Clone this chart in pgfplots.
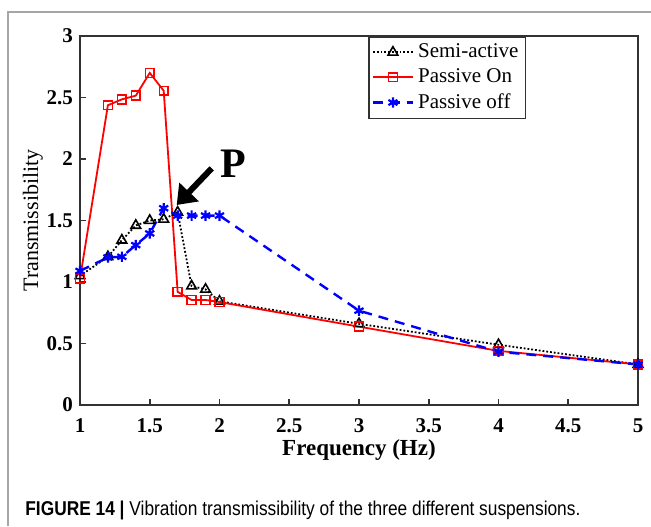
\documentclass[border=0pt]{standalone}
\usepackage{fontspec}
\setmainfont{Liberation Serif}
\newfontfamily\capfont{Liberation Sans}
\usepackage{pgfplots}
\pgfplotsset{compat=1.18}
\usetikzlibrary{arrows.meta}
\definecolor{axisgray}{RGB}{50,50,50}

\begin{document}
\begin{tikzpicture}
\path[use as bounding box] (0,0) rectangle (325.5pt,263pt);
% partial outer frame of the figure panel
\draw[gray!70,line width=0.6pt] (4pt,0) -- (4pt,257pt) -- (325.5pt,257pt);

\begin{axis}[
  at={(40pt,60.5pt)},anchor=south west,
  scale only axis,width=279pt,height=184.5pt,
  xmin=1,xmax=5,ymin=0,ymax=3,
  xtick={1,1.5,...,5},ytick={0,0.5,...,3},
  xtick pos=left,ytick pos=left,tick align=inside,
  major tick length=3pt,
  axis line style={axisgray,line width=1pt},
  tick style={axisgray,line width=0.8pt},
  /pgf/number format/assume math mode=true,
  tick label style={font=\fontsize{10.5}{12}\selectfont\bfseries},
  xticklabel style={yshift=-3.5pt},
  xlabel={\textbf{Frequency (Hz)}},
  ylabel={Transmissibility},
  xlabel style={font=\fontsize{11.5}{13}\selectfont,yshift=3.5pt},
  ylabel style={font=\fontsize{11}{13}\selectfont,yshift=-5pt},
  legend style={at={(0.516,1)},anchor=north west,
    font=\fontsize{10.5}{12.5}\selectfont,draw=axisgray,line width=0.8pt,
    inner sep=1.5pt,row sep=0pt,cells={anchor=west}},
  legend image code/.code={\draw[mark repeat=2,mark phase=2] plot coordinates {(0pt,0pt)(10pt,0pt)(20pt,0pt)};},
  clip=false,
]
\addplot[black,densely dotted,line width=0.9pt,mark=triangle,mark size=2.8pt,mark options={solid,line width=0.8pt}]
 coordinates {(1,1.05)(1.2,1.205)(1.3,1.34)(1.4,1.46)(1.5,1.50)(1.6,1.51)(1.7,1.567)(1.8,0.967)(1.9,0.94)(2,0.843)(3,0.66)(4,0.49)(5,0.33)};
\addlegendentry{Semi-active}
\addplot[red,line width=0.9pt,mark=square,mark size=2.2pt,mark options={solid,line width=0.8pt}]
 coordinates {(1,1.027)(1.2,2.437)(1.3,2.485)(1.4,2.515)(1.5,2.70)(1.6,2.555)(1.7,0.92)(1.8,0.854)(1.9,0.854)(2,0.837)(3,0.637)(4,0.44)(5,0.33)};
\addlegendentry{Passive On}
\addplot[blue,dash pattern=on 5pt off 3.5pt,line width=1.2pt,mark=asterisk,mark size=2.6pt,mark options={solid,line width=1.1pt}]
 coordinates {(1,1.09)(1.2,1.2)(1.3,1.205)(1.4,1.30)(1.5,1.395)(1.6,1.60)(1.7,1.54)(1.8,1.54)(1.9,1.54)(2,1.54)(3,0.767)(4,0.433)(5,0.33)};
\addlegendentry{Passive off}
\draw[line width=3pt,-{Triangle[length=9pt,width=13pt]}] (axis cs:1.944,1.924) -- (axis cs:1.693,1.626);
\node[font=\fontsize{21}{24}\selectfont\bfseries] at (axis cs:2.10,1.96) {P};
\end{axis}

\node[anchor=base west,inner sep=0pt,font=\capfont\fontsize{10}{12}\selectfont] at (12.5pt,5.5pt)
  {\resizebox{277.5pt}{\height}{\textbf{FIGURE 14 |} Vibration transmissibility of the three different suspensions.}};
\end{tikzpicture}
\end{document}
